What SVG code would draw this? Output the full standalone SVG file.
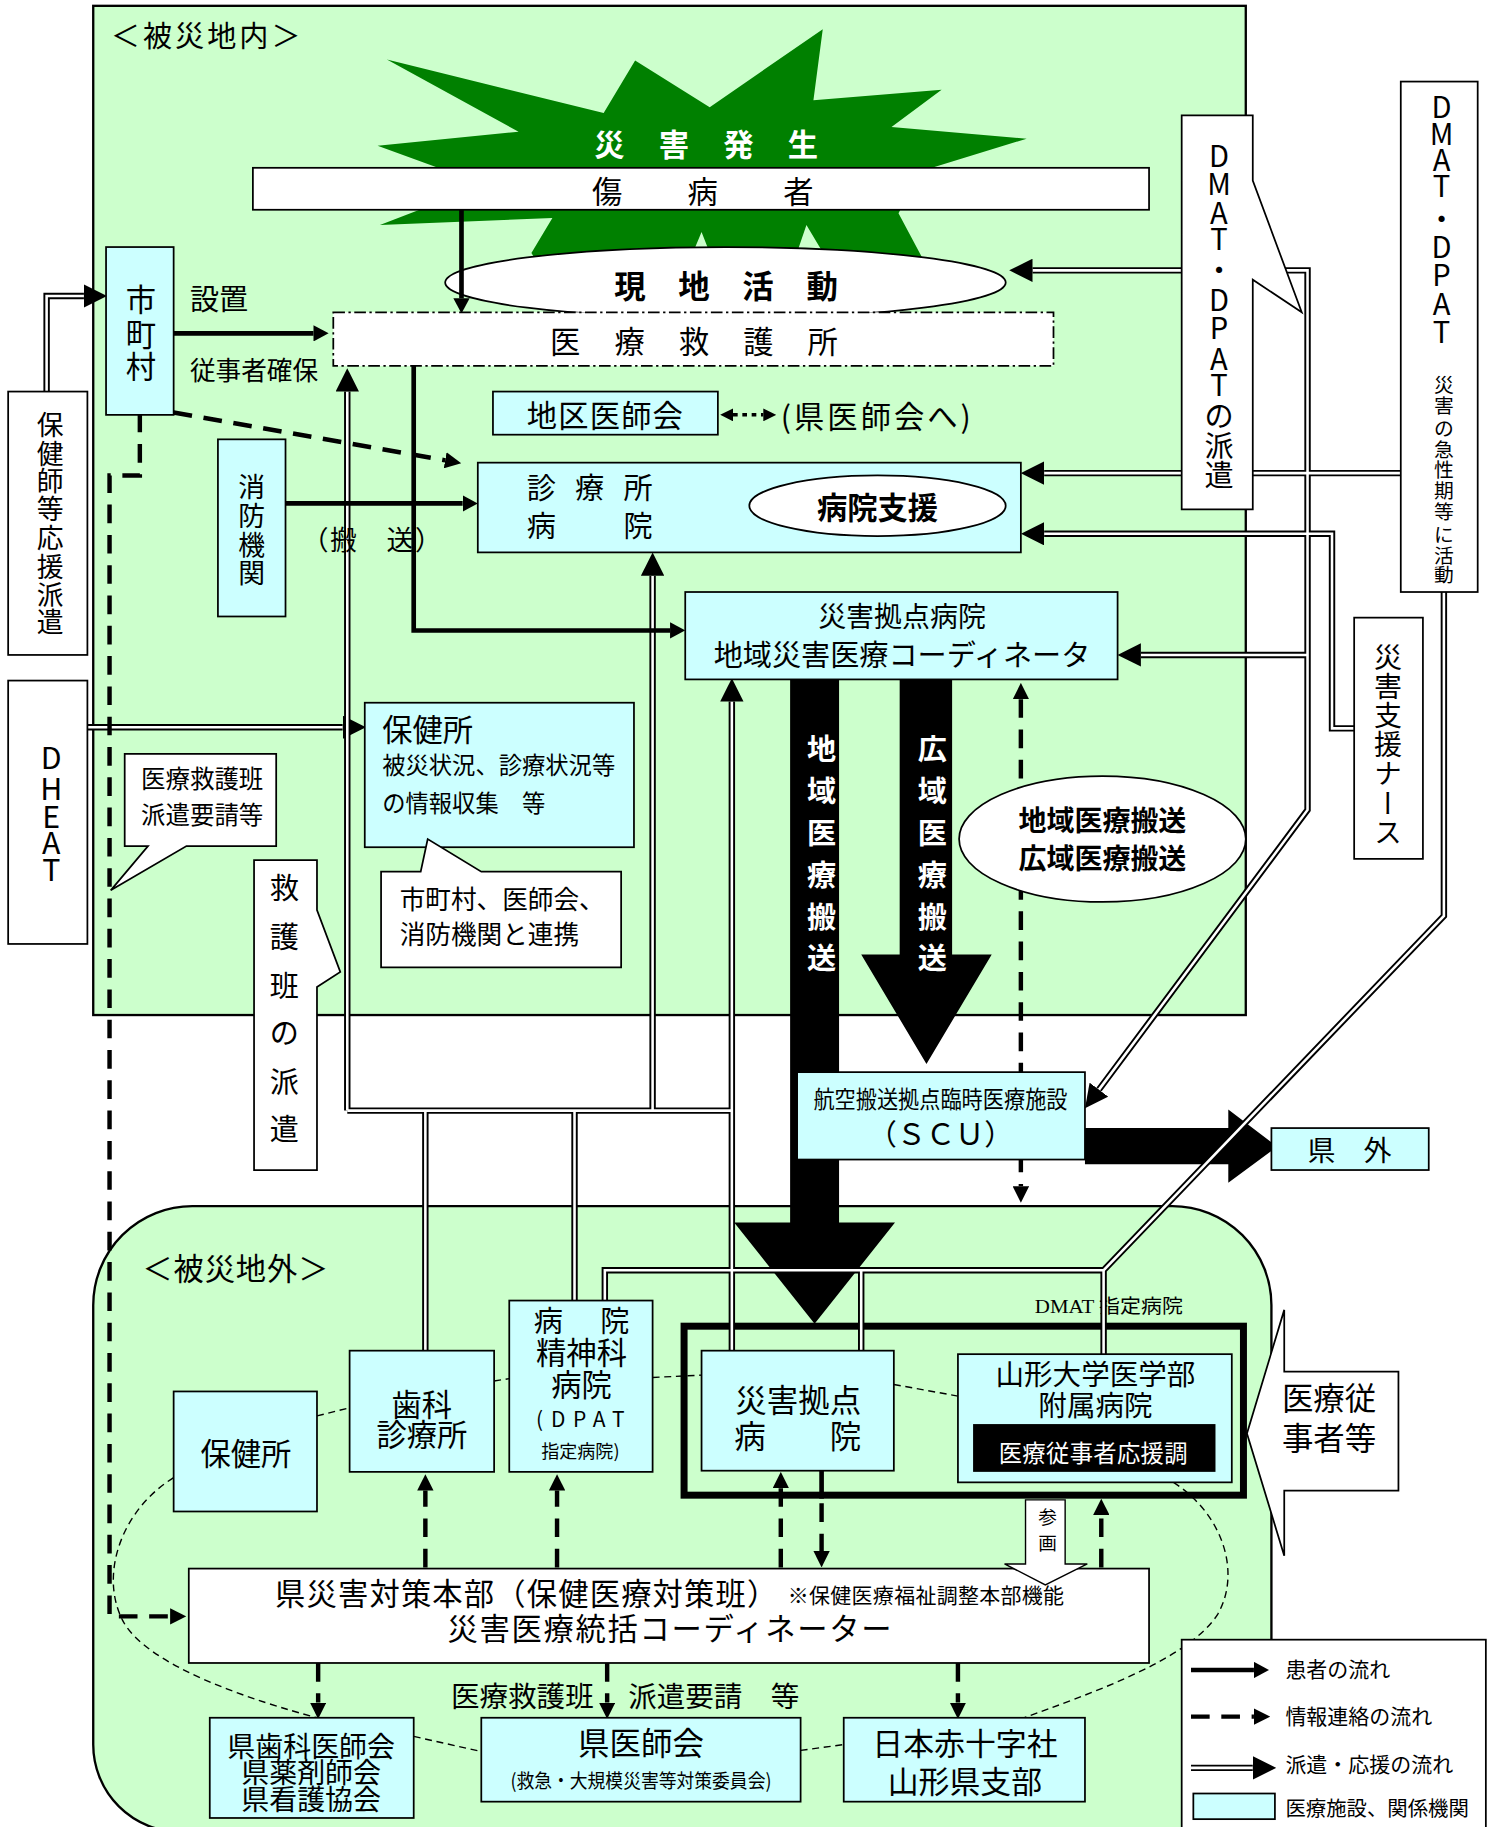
<svg xmlns="http://www.w3.org/2000/svg" width="1494" height="1827" viewBox="0 0 1494 1827">
<defs>
<style>
.t{font-family:'Noto Sans CJK JP','Noto Sans CJK SC',sans-serif;dominant-baseline:central;fill:#000}
.m{text-anchor:middle}
.b{font-weight:bold}
.w{fill:#fff}
.sf{font-family:'Liberation Serif','Noto Sans CJK JP',serif}
.box{fill:#ccffff;stroke:#000;stroke-width:1.5}
.wb{fill:#fff;stroke:#000;stroke-width:1.5}
.rg{fill:#ccffcc;stroke:#000;stroke-width:2}
.dk{fill:none;stroke:#000;stroke-width:5.5}
.dw{fill:none;stroke:#fff;stroke-width:2.2}
.sl{fill:none;stroke:#000;stroke-width:4}
.ds{fill:none;stroke:#000;stroke-width:3.8;stroke-dasharray:16 10}
.th{fill:none;stroke:#000;stroke-width:1.2;stroke-dasharray:6 4}
.big{fill:#000}
</style>
<marker id="ma" markerUnits="userSpaceOnUse" markerWidth="20" markerHeight="20" refX="0" refY="10" orient="auto-start-reverse"><path d="M0,0 L20,10 L0,20 Z" fill="#000"/></marker>
<marker id="ms" markerUnits="userSpaceOnUse" markerWidth="13" markerHeight="14" refX="0" refY="7" orient="auto-start-reverse"><path d="M0,0 L13,7 L0,14 Z" fill="#000"/></marker>
<marker id="md" markerUnits="userSpaceOnUse" markerWidth="14" markerHeight="14" refX="0" refY="7" orient="auto-start-reverse"><path d="M0,0 L14,7 L0,14 Z" fill="#000"/></marker>
<marker id="mt" markerUnits="userSpaceOnUse" markerWidth="11" markerHeight="11" refX="0" refY="5.5" orient="auto-start-reverse"><path d="M0,0 L11,5.5 L0,11 Z" fill="#000"/></marker>
</defs>
<rect x="0" y="0" width="1494" height="1827" fill="#fff"/>
<g transform="scale(1.16537)">

<g id="regions">
<rect x="80" y="5" width="989" height="866" class="rg"/>
<path d="M80,1120 A85,85 0 0 1 165,1035 H1006 A85,85 0 0 1 1091,1120 V1497 A75,75 0 0 1 1016,1572 H155 A75,75 0 0 1 80,1497 Z" class="rg"/>
<text class="t" x="95" y="29" font-size="25" textLength="163">＜被災地内＞</text>
<text class="t" x="122" y="1087" font-size="26" textLength="160">＜被災地外＞</text>
</g>

<g id="node-saigai-hassei">
<polygon points="324,125 445,113 332,51 518,97 545,52 609,92 706,25 698,86 808,77 765,109 881,119 790,147 771,183 795,228 720,240 692,193 676,240 618,240 602,199 585,240 470,240 456,217 474,187 326,193 365,178 420,160" fill="#008000"/>
<text class="t b w" x="510" y="123" font-size="26" textLength="192">災　害　発　生</text>
</g>
<g id="node-shobyosha">
<rect x="217" y="144" width="769" height="36" class="wb"/>
<text class="t" x="508" y="163" font-size="26" textLength="190">傷　　病　　者</text>
</g>
<g id="node-genchi">
<ellipse cx="622.5" cy="242.5" rx="240.5" ry="30.5" class="wb"/>
<text class="t b" x="527" y="244" font-size="27" textLength="192">現　地　活　動</text>
</g>
<g id="node-honbu">
<rect x="162" y="1346" width="824" height="81" class="wb"/>
<text class="t" x="236" y="1366" font-size="26" textLength="431">県災害対策本部（保健医療対策班）</text>
<text class="t" x="676" y="1368" font-size="18" textLength="237">※保健医療福祉調整本部機能</text>
<text class="t" x="384" y="1396" font-size="26" textLength="381">災害医療統括コーディネーター</text>
</g>
<g id="node-dmat-frame">
<rect x="587" y="1138" width="480" height="145" fill="none" stroke="#000" stroke-width="6"/>
<text class="t sf" x="888" y="1121" font-size="17" textLength="127" lengthAdjust="spacingAndGlyphs">DMAT 指定病院</text>
</g>

<g id="connectors">
<polygon class="big" points="678,582 720,582 720,1049 768,1049 699,1136 630,1049 678,1049"/>
<polygon class="big" points="772,582 817,582 817,819 851,819 795,913 739,819 772,819"/>
<polygon class="big" points="931,968 1054,968 1054,952 1096,984 1054,1015 1054,999 931,999"/>
<g class="t b w" font-size="25">
<text class="m"><tspan x="705" y="641">地</tspan><tspan x="705" y="677">域</tspan><tspan x="705" y="713">医</tspan><tspan x="705" y="749">療</tspan><tspan x="705" y="785">搬</tspan><tspan x="705" y="820">送</tspan></text>
<text class="m"><tspan x="800" y="641">広</tspan><tspan x="800" y="677">域</tspan><tspan x="800" y="713">医</tspan><tspan x="800" y="749">療</tspan><tspan x="800" y="785">搬</tspan><tspan x="800" y="820">送</tspan></text>
</g>
<g class="dk">
<path d="M40,336 V254 H72"/>
<path d="M75,624 H294"/>
<path d="M943,935 L1122,695 V232 H886"/>
<path d="M1122,562 H979"/>
<path d="M1202,406 H896"/>
<path d="M1162,625 H1143 V458 H896"/>
<path d="M1239,508 V786 L947,1090 V1163"/>
<path d="M947,1090 H519 V1117"/>
<path d="M739,1090 V1160"/>
<path d="M628,1160 V602"/>
<path d="M298,953 V336"/>
<path d="M298,953 H628"/>
<path d="M560,953 V494"/>
<path d="M365,953 V1160"/>
<path d="M493,953 V1117"/>
</g>
<g class="dw">
<path d="M40,336 V254 H72" marker-end="url(#ma)"/>
<path d="M75,624 H294" marker-end="url(#ma)"/>
<path d="M943,935 L1122,695 V232 H886" marker-start="url(#ma)" marker-end="url(#ma)"/>
<path d="M1122,562 H979" marker-end="url(#ma)"/>
<path d="M1202,406 H896" marker-end="url(#ma)"/>
<path d="M1162,625 H1143 V458 H896" marker-end="url(#ma)"/>
<path d="M1239,508 V786 L947,1090 V1163"/>
<path d="M947,1090 H519 V1117"/>
<path d="M739,1090 V1160"/>
<path d="M628,1160 V602" marker-end="url(#ma)"/>
<path d="M298,953 V336" marker-end="url(#ma)"/>
<path d="M298,953 H628"/>
<path d="M560,953 V494" marker-end="url(#ma)"/>
<path d="M365,953 V1160"/>
<path d="M493,953 V1117"/>
</g>
<path class="sl" d="M396,180 V256" marker-end="url(#ms)"/>
<path class="sl" d="M149,286 H269" marker-end="url(#ms)"/>
<path class="sl" d="M245,432 H397" marker-end="url(#ms)"/>
<path class="sl" d="M355,314 V541 H575" marker-end="url(#ms)"/>
<path class="sl" d="M705,1262 V1286"/>
<path class="ds" d="M120,355 V408 H94 V1387 H146" marker-end="url(#md)"/>
<path class="ds" d="M149,354 L382,395" marker-end="url(#md)"/>
<path class="ds" d="M876,600 V1018" marker-start="url(#md)" marker-end="url(#md)"/>
<path class="ds" d="M365,1345 V1279" marker-end="url(#md)"/>
<path class="ds" d="M478,1345 V1279" marker-end="url(#md)"/>
<path class="ds" d="M670,1345 V1277" marker-end="url(#md)"/>
<path class="ds" d="M705,1290 V1331" marker-end="url(#md)"/>
<path class="ds" d="M945,1345 V1300" marker-end="url(#md)"/>
<path class="ds" d="M273,1427 V1461" marker-end="url(#md)"/>
<path class="ds" d="M521,1427 V1461" marker-end="url(#md)"/>
<path class="ds" d="M822,1427 V1461" marker-end="url(#md)"/>
<path d="M629,356 H655" fill="none" stroke="#000" stroke-width="3" stroke-dasharray="4 4" marker-start="url(#mt)" marker-end="url(#mt)"/>
<path class="th" d="M272,1215 L300,1208"/>
<path class="th" d="M424,1185 L437,1183"/>
<path class="th" d="M560,1182 L602,1180"/>
<path class="th" d="M767,1188 L822,1198"/>
<path class="th" d="M1007,1272 C1050,1300 1065,1350 1045,1385 C1020,1425 930,1455 879,1474"/>
<path class="th" d="M149,1268 C105,1295 85,1350 105,1390 C125,1430 220,1460 272,1474"/>
<path class="th" d="M355,1490 L413,1503"/>
<path class="th" d="M687,1502 L724,1497"/>
<polygon points="880,1287 914,1287 914,1342 933,1342 897,1360 862,1342 880,1342" fill="#fff" stroke="#000" stroke-width="1.2"/>
<text class="t m" font-size="16"><tspan x="899" y="1300">参</tspan><tspan x="899" y="1322">画</tspan></text>
<text class="t" x="163" y="255" font-size="25">設置</text>
<text class="t" x="163" y="316" font-size="22">従事者確保</text>
<text class="t" x="259" y="462" font-size="23" textLength="120">（搬　送）</text>
<text class="t" x="670" y="356" font-size="26" textLength="163">(県医師会へ)</text>
<text class="t" x="387" y="1454" font-size="24.5">医療救護班</text>
<text class="t" x="539" y="1454" font-size="24.5">派遣要請　等</text>
</g>

<g id="node-kyugosho">
<rect x="286" y="268" width="618" height="46" fill="#fff" stroke="#000" stroke-width="1.5" stroke-dasharray="10 3 2 3"/>
<text class="t" x="472" y="292" font-size="26" textLength="247">医　療　救　護　所</text>
</g>
<g id="node-shichoson">
<rect x="91" y="212" width="58" height="144" class="box"/>
<text class="t m" font-size="26"><tspan x="121" y="256">市</tspan><tspan x="121" y="286">町</tspan><tspan x="121" y="313">村</tspan></text>
</g>
<g id="node-chiku-ishikai">
<rect x="423" y="336" width="193" height="37" class="box"/>
<text class="t" x="452" y="355" font-size="26" textLength="134">地区医師会</text>
</g>
<g id="node-shobo">
<rect x="187" y="377" width="58" height="152" class="box"/>
<text class="t m" font-size="23"><tspan x="216" y="416">消</tspan><tspan x="216" y="441">防</tspan><tspan x="216" y="466">機</tspan><tspan x="216" y="490">関</tspan></text>
</g>
<g id="node-shinryojo">
<rect x="410" y="397" width="466" height="77" class="box"/>
<text class="t" x="452" y="417" font-size="25" textLength="108">診　療　所</text>
<text class="t" x="452" y="450" font-size="25" textLength="108">病　　　院</text>
<ellipse cx="753" cy="434" rx="110" ry="26" class="wb"/>
<text class="t m b" x="753" y="434" font-size="26">病院支援</text>
</g>
<g id="node-kyoten-top">
<rect x="588" y="508" width="371" height="75" class="box"/>
<text class="t m" x="774" y="528" font-size="24">災害拠点病院</text>
<text class="t m" x="774" y="560" font-size="25">地域災害医療コーディネータ</text>
</g>
<g id="node-hokenjo-top">
<rect x="313" y="603" width="231" height="124" class="box"/>
<text class="t" x="328" y="625" font-size="26">保健所</text>
<text class="t" x="328" y="656" font-size="20">被災状況、診療状況等</text>
<text class="t" x="328" y="688" font-size="20">の情報収集　等</text>
</g>
<g id="node-renkei">
<polygon points="327,748 361,748 367,720 413,748 533,748 533,830 327,830" class="wb"/>
<text class="t" x="343" y="770" font-size="22">市町村、医師会、</text>
<text class="t" x="343" y="800" font-size="22">消防機関と連携</text>
</g>
<g id="node-yosei">
<polygon points="107,647 237,647 237,726 160,726 95,764 127,726 107,726" class="wb"/>
<text class="t" x="121" y="667" font-size="21">医療救護班</text>
<text class="t" x="121" y="698" font-size="21">派遣要請等</text>
</g>
<g id="node-kyugohan">
<polygon points="218,738 272,738 272,781 292,834 272,847 272,1004 218,1004" class="wb"/>
<text class="t m" font-size="25"><tspan x="244" y="760">救</tspan><tspan x="244" y="802">護</tspan><tspan x="244" y="844">班</tspan><tspan x="244" y="885">の</tspan><tspan x="244" y="927">派</tspan><tspan x="244" y="967">遣</tspan></text>
</g>
<g id="node-hokenshi">
<rect x="7" y="336" width="68" height="226" class="wb"/>
<text class="t m" font-size="23"><tspan x="43" y="363">保</tspan><tspan x="43" y="388">健</tspan><tspan x="43" y="411">師</tspan><tspan x="43" y="435">等</tspan><tspan x="43" y="460">応</tspan><tspan x="43" y="485">援</tspan><tspan x="43" y="509">派</tspan><tspan x="43" y="532">遣</tspan></text>
</g>
<g id="node-dheat">
<rect x="7" y="584" width="68" height="226" class="wb"/>
<text class="t m" font-size="26"><tspan x="44" y="649">D</tspan><tspan x="44" y="675">H</tspan><tspan x="44" y="699">E</tspan><tspan x="44" y="722">A</tspan><tspan x="44" y="745">T</tspan></text>
</g>
<g id="node-dmat-haken">
<polygon points="1014,99 1075,99 1075,155 1117,268 1075,240 1075,437 1014,437" class="wb"/>
<text class="t m" font-size="25"><tspan x="1046" y="132">D</tspan><tspan x="1046" y="156">M</tspan><tspan x="1046" y="181">A</tspan><tspan x="1046" y="203">T</tspan><tspan x="1046" y="230">・</tspan><tspan x="1046" y="256">D</tspan><tspan x="1046" y="280">P</tspan><tspan x="1046" y="306">A</tspan><tspan x="1046" y="329">T</tspan><tspan x="1046" y="355">の</tspan><tspan x="1046" y="381">派</tspan><tspan x="1046" y="406">遣</tspan></text>
</g>
<g id="node-dmat-kyuseiki">
<rect x="1202" y="70" width="66" height="438" class="wb"/>
<text class="t m" font-size="25"><tspan x="1237" y="90">D</tspan><tspan x="1237" y="113">M</tspan><tspan x="1237" y="136">A</tspan><tspan x="1237" y="158">T</tspan><tspan x="1237" y="186">・</tspan><tspan x="1237" y="210">D</tspan><tspan x="1237" y="234">P</tspan><tspan x="1237" y="259">A</tspan><tspan x="1237" y="283">T</tspan></text>
<text class="t m" font-size="17"><tspan x="1239" y="329">災</tspan><tspan x="1239" y="347">害</tspan><tspan x="1239" y="366">の</tspan><tspan x="1239" y="384">急</tspan><tspan x="1239" y="402">性</tspan><tspan x="1239" y="420">期</tspan><tspan x="1239" y="438">等</tspan><tspan x="1239" y="457">に</tspan><tspan x="1239" y="475">活</tspan><tspan x="1239" y="492">動</tspan></text>
</g>
<g id="node-nurse">
<rect x="1162" y="530" width="59" height="207" class="wb"/>
<text class="t" x="1191" y="552" font-size="24" letter-spacing="1" style="writing-mode:vertical-rl">災害支援ナース</text>
</g>
<g id="node-hanso">
<ellipse cx="946" cy="720" rx="123" ry="54" class="wb"/>
<text class="t m b" x="946" y="703" font-size="24">地域医療搬送</text>
<text class="t m b" x="946" y="735" font-size="24">広域医療搬送</text>
</g>
<g id="node-scu">
<rect x="684" y="920" width="247" height="75" class="box"/>
<text class="t" x="698" y="942" font-size="20" textLength="218" lengthAdjust="spacingAndGlyphs">航空搬送拠点臨時医療施設</text>
<text class="t m" x="807" y="971" font-size="25">（ＳＣＵ）</text>
</g>
<g id="node-kengai">
<rect x="1091" y="968" width="135" height="36" class="box"/>
<text class="t m" x="1158" y="986" font-size="24">県　外</text>
</g>

<g id="node-hokenjo-bottom">
<rect x="149" y="1194" width="123" height="103" class="box"/>
<text class="t m" x="211" y="1246" font-size="26">保健所</text>
</g>
<g id="node-shika">
<rect x="300" y="1159" width="124" height="104" class="box"/>
<text class="t m" x="362" y="1204" font-size="26">歯科</text>
<text class="t m" x="362" y="1230" font-size="26">診療所</text>
</g>
<g id="node-seishin">
<rect x="437" y="1116" width="123" height="147" class="box"/>
<text class="t" x="458" y="1132" font-size="25" textLength="82">病　院</text>
<text class="t m" x="499" y="1159" font-size="26">精神科</text>
<text class="t m" x="499" y="1187" font-size="26">病院</text>
<text class="t" x="460" y="1217" font-size="18" textLength="76">(DPAT</text>
<text class="t m" x="498" y="1244" font-size="15.5">指定病院)</text>
</g>
<g id="node-kyoten-bottom">
<rect x="602" y="1159" width="165" height="103" class="box"/>
<text class="t m" x="685" y="1200" font-size="27">災害拠点</text>
<text class="t" x="630" y="1231" font-size="27" textLength="109">病　　院</text>
</g>
<g id="node-yamadai">
<rect x="822" y="1162" width="235" height="110" class="box"/>
<text class="t m" x="940" y="1178" font-size="24.5">山形大学医学部</text>
<text class="t m" x="940" y="1204" font-size="24.5">附属病院</text>
<rect x="835" y="1222" width="208" height="41" fill="#000"/>
<text class="t w" x="857" y="1246" font-size="20" textLength="162">医療従事者応援調</text>
</g>
<g id="node-jujisha">
<polygon points="1102,1124 1102,1177 1200,1177 1200,1279 1102,1279 1102,1335 1070,1230" class="wb"/>
<text class="t" x="1100" y="1198" font-size="27">医療従</text>
<text class="t" x="1100" y="1233" font-size="27">事者等</text>
</g>
<g id="node-ken-shika">
<rect x="180" y="1474" width="175" height="86" class="box"/>
<text class="t m" x="267" y="1497" font-size="24">県歯科医師会</text>
<text class="t m" x="267" y="1520" font-size="24">県薬剤師会</text>
<text class="t m" x="267" y="1543" font-size="24">県看護協会</text>
</g>
<g id="node-ken-ishikai">
<rect x="413" y="1474" width="274" height="72" class="box"/>
<text class="t m" x="550" y="1494" font-size="27">県医師会</text>
<text class="t" x="438" y="1527" font-size="17" textLength="224" lengthAdjust="spacingAndGlyphs">(救急・大規模災害等対策委員会)</text>
</g>
<g id="node-sekijuji">
<rect x="724" y="1474" width="207" height="72" class="box"/>
<text class="t m" x="828" y="1494" font-size="26.5">日本赤十字社</text>
<text class="t m" x="828" y="1527" font-size="26.5">山形県支部</text>
</g>
<g id="node-legend">
<rect x="1014" y="1407" width="261" height="170" class="wb"/>
<path class="sl" d="M1022,1433 H1076" marker-end="url(#ms)"/>
<path class="ds" d="M1022,1473 H1076" marker-end="url(#md)"/>
<path class="dk" d="M1022,1517 H1075"/>
<path class="dw" d="M1022,1517 H1075" marker-end="url(#ma)"/>
<rect x="1024" y="1539" width="70" height="22" class="box"/>
<text class="t" x="1103" y="1431" font-size="18">患者の流れ</text>
<text class="t" x="1103" y="1472" font-size="18">情報連絡の流れ</text>
<text class="t" x="1103" y="1513" font-size="18">派遣・応援の流れ</text>
<text class="t" x="1103" y="1551" font-size="17.5">医療施設、関係機関</text>
</g>
</g>
</svg>
